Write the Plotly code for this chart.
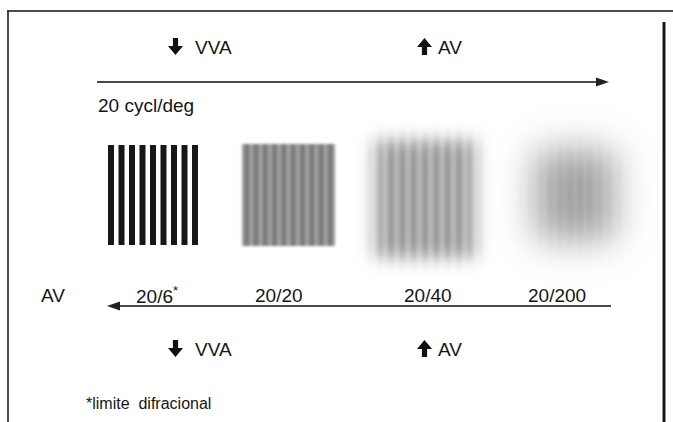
import math
import numpy as np
import plotly.graph_objects as go

# ---------------- data ----------------
acuity_labels = ["20/6<sup>*</sup>", "20/20", "20/40", "20/200"]
bar_counts = [9, 10, 9, 8]              # stripes per grating
dark_level = [232, 130, 100, 96]        # darkness of dark stripes (0 = white, 255 = black)
stripe_contrast = [1.0, 0.24, 0.26, 0.08]
blur_px = [0.0, 1.3, 8.5, 18.0]
top_left_text = "20 cycl/deg"
axis_name = "AV"
decrease_text = "VVA"
increase_text = "AV"
footnote = "*limite  difracional"

# ---------------- layout constants ----------------
W, H = 673, 422
boxes = [(108, 198, 145, 245), (242, 335, 144, 246), (374, 476, 140, 258), (535, 615, 150, 240)]
label_x = [157, 279, 428, 557]
FONT = "Liberation Sans, Arial, sans-serif"
INK = "#151515"

erf = np.vectorize(math.erf)
SQ2 = math.sqrt(2.0)

cx0, cx1, cy0, cy1 = 95, 662, 92, 296
ss = 4
xs = cx0 + (np.arange((cx1 - cx0) * ss) + 0.5) / ss
ys = cy0 + np.arange(cy1 - cy0) + 0.5


def box_profile(c, lo, hi, s):
    if s <= 0:
        return ((c >= lo) & (c < hi)).astype(float)
    return 0.5 * (erf((c - lo) / (s * SQ2)) - erf((c - hi) / (s * SQ2)))


dark = np.zeros((len(ys), len(xs)))
for (x0, x1, y0, y1), n, d, c, s in zip(boxes, bar_counts, dark_level, stripe_contrast, blur_px):
    if s <= 0:
        duty = 0.56
        period = (x1 - x0) / (n - 1 + duty)
        ph = ((xs - x0) % period) < duty * period
        wave = (ph & (xs >= x0) & (xs < x1)).astype(float)
        ex = np.ones_like(xs)
    else:
        period = (x1 - x0) / n
        wave = 0.5 + 0.5 * np.cos(2 * np.pi * (xs - x0 - period / 2) / period)
        ex = box_profile(xs, x0, x1, s)
    ey = box_profile(ys, y0, y1, s)
    prof = ex * (1 - c + c * wave)
    dark = np.maximum(dark, d * np.outer(ey, prof))

dark = dark.reshape(len(ys), cx1 - cx0, ss).mean(axis=2)
z = np.round(255 - dark).astype(int)

fig = go.Figure()
fig.add_trace(go.Heatmap(
    z=z, x0=cx0 + 0.5, dx=1, y0=cy0 + 0.5, dy=1,
    colorscale=[[0, "black"], [1, "white"]], zmin=0, zmax=255,
    showscale=False, hoverinfo="skip", zsmooth=False,
))

shapes = []
# frame
shapes.append(dict(type="line", x0=7, x1=673, y0=11, y1=11, line=dict(color="#111", width=1.5)))
shapes.append(dict(type="line", x0=8, x1=8, y0=11, y1=422, line=dict(color="#111", width=1.5)))
shapes.append(dict(type="line", x0=664, x1=664, y0=22, y1=422, line=dict(color="#1a1a1a", width=3)))


def fat_arrow(cx, ytop, up):
    h, hw, sw, hh = 17, 7.5, 2.6, 9
    if not up:
        p = (f"M{cx-sw},{ytop} L{cx+sw},{ytop} L{cx+sw},{ytop+h-hh} L{cx+hw},{ytop+h-hh} "
             f"L{cx},{ytop+h} L{cx-hw},{ytop+h-hh} L{cx-sw},{ytop+h-hh} Z")
    else:
        yb = ytop + h
        p = (f"M{cx-sw},{yb} L{cx+sw},{yb} L{cx+sw},{ytop+hh} L{cx+hw},{ytop+hh} "
             f"L{cx},{ytop} L{cx-hw},{ytop+hh} L{cx-sw},{ytop+hh} Z")
    return dict(type="path", path=p, fillcolor="#111", line=dict(width=0))


for yt in (38, 340):
    shapes.append(fat_arrow(175.5, yt, False))
    shapes.append(fat_arrow(424.5, yt, True))


def long_arrow(x_from, x_to, y):
    d = 1 if x_to > x_from else -1
    hl, hw = 13, 4.5
    base = x_to - d * hl
    line = dict(type="line", x0=x_from, x1=base + d * 1, y0=y, y1=y,
                line=dict(color="#4a4a4a", width=2))
    head = dict(type="path", path=f"M{base},{y-hw} L{x_to},{y} L{base},{y+hw} Z",
                fillcolor="#222", line=dict(width=0))
    return [line, head]


shapes += long_arrow(97, 609, 82)
shapes += long_arrow(611, 107, 306)

ann = []


def txt(x, y, t, size=19, anchor="left", color=INK):
    ann.append(dict(x=x, y=y, xref="x", yref="y", text=t, showarrow=False,
                    xanchor=anchor, yanchor="middle",
                    font=dict(family=FONT, size=size, color=color)))


for yc in (47, 349):
    txt(193, yc, decrease_text)
    txt(436, yc, increase_text)

txt(96, 105, top_left_text)
txt(39, 295, axis_name)
for lx, lab in zip(label_x, acuity_labels):
    txt(lx, 295, lab, anchor="center")
txt(84, 403, footnote, size=16)

fig.update_layout(
    width=W, height=H, autosize=False,
    margin=dict(l=0, r=0, t=0, b=0),
    paper_bgcolor="white", plot_bgcolor="white",
    xaxis=dict(range=[0, W], visible=False, fixedrange=True),
    yaxis=dict(range=[H, 0], visible=False, fixedrange=True),
    shapes=shapes, annotations=ann, showlegend=False,
)

fig.write_html("out.html", config={"displayModeBar": False, "staticPlot": True},
               post_script="document.body.style.margin='0';document.body.style.overflow='hidden';")
